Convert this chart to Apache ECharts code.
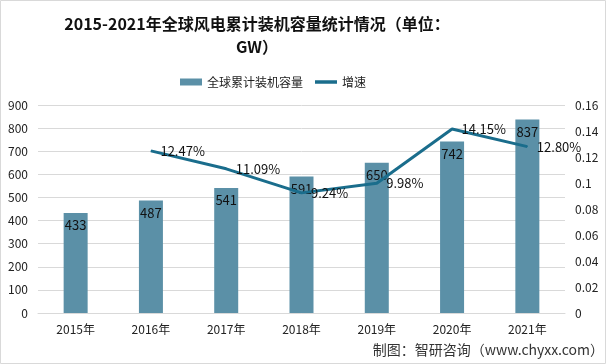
<!DOCTYPE html>
<html><head><meta charset="utf-8">
<script src="https://cdn.jsdelivr.net/npm/echarts@6/dist/echarts.min.js"></script>
<style>html,body{margin:0;padding:0;background:#fff}#c{width:606px;height:364px}</style>
</head><body><div id="c"></div>
<script>
const titleText = '2015-2021年全球风电累计装机容量统计情况（单位：\nGW）';
const sourceText = '制图：智研咨询（www.chyxx.com）';
const categories = ['2015年','2016年','2017年','2018年','2019年','2020年','2021年'];
const capacity = [433, 487, 541, 591, 650, 742, 837];
const growth = ['-', 0.1247, 0.1109, 0.0924, 0.0998, 0.1415, 0.1280];
const seriesNames = ['全球累计装机容量', '增速'];
const font = '"Noto Sans CJK SC", "Microsoft YaHei", sans-serif';

const chart = echarts.init(document.getElementById('c'));
chart.setOption({
  animation: false,
  textStyle: {fontFamily: font},
  graphic: [
    {type: 'rect', shape: {x: 0.5, y: 0.5, width: 605, height: 363}, style: {fill: 'none', stroke: '#d9d9d9', lineWidth: 1}},
    {type: 'text', x: 257, y: 12, style: {text: titleText, textAlign: 'center', font: 'bold 16px ' + font, lineHeight: 23, fill: '#111'}},
    {type: 'text', x: 604, y: 343, style: {text: sourceText, textAlign: 'right', font: '14px ' + font, fill: '#333'}}
  ],
  legend: {
    top: 71, left: 175, itemGap: 12, itemWidth: 22, itemHeight: 7,
    textStyle: {fontSize: 12, color: '#222', fontFamily: font},
    data: [
      {name: seriesNames[0], icon: 'rect'},
      {name: seriesNames[1], icon: 'path://M0,0 L22,0 L22,3.5 L0,3.5 Z', itemStyle: {color: '#1a6d8c'}}
    ]
  },
  grid: {left: 38, right: 41, top: 105, bottom: 51},
  xAxis: {
    type: 'category', data: categories,
    axisLine: {lineStyle: {color: '#d9d9d9'}},
    axisTick: {show: false},
    axisLabel: {fontSize: 12, color: '#222', margin: 10, fontFamily: font}
  },
  yAxis: [
    {type: 'value', min: 0, max: 900, interval: 100,
     splitLine: {lineStyle: {color: '#d9d9d9'}},
     axisLabel: {fontSize: 12, color: '#222', margin: 10}},
    {type: 'value', min: 0, max: 0.16, interval: 0.02,
     splitLine: {show: false},
     axisLabel: {fontSize: 12, color: '#222', margin: 10}}
  ],
  series: [
    {name: seriesNames[0], type: 'bar', data: capacity, barWidth: 24,
     itemStyle: {color: '#5b90a7'},
     label: {show: true, position: 'insideTop', distance: 6, fontSize: 13, color: '#111'}},
    {name: seriesNames[1], type: 'line', yAxisIndex: 1, data: growth,
     symbol: 'circle', symbolSize: 1,
     lineStyle: {color: '#1a6d8c', width: 3},
     itemStyle: {color: '#1a6d8c'},
     label: {show: true, position: 'right', distance: 9, fontSize: 13, color: '#111',
       formatter: p => (p.value * 100).toFixed(2) + '%'}}
  ]
});
</script></body></html>
